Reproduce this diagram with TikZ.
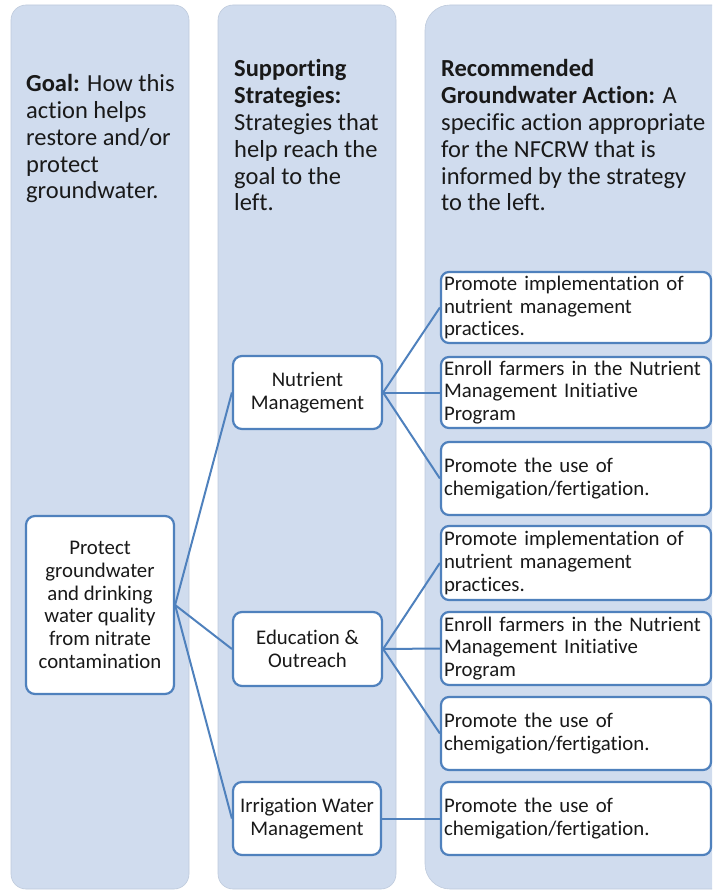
\documentclass[tikz,border=0pt]{standalone}
\usepackage{fontspec}
\setmainfont[Ligatures=NoCommon]{Carlito}
\definecolor{colfill}{RGB}{208,220,238}
\definecolor{colline}{RGB}{190,202,220}
\definecolor{edge}{RGB}{79,129,189}
\definecolor{txt}{RGB}{25,25,25}
\begin{document}
\begin{tikzpicture}[x=1pt,y=-1pt,
  column/.style={fill=colfill, draw=colline, line width=0.6},
  hdr/.style={anchor=base west, align=left, inner sep=0, text=txt,
    font=\fontsize{24.5}{26.8}\selectfont},
  midbox/.style={draw=edge, line width=2.2, fill=white, rounded corners=9,
    align=center, inner sep=2, text=txt, font=\fontsize{20.8}{22.7}\selectfont},
  actbox/.style={draw=edge, line width=2.2, fill=white, rounded corners=8,
    align=left, inner xsep=3, inner ysep=1, text width=264, minimum width=270,
    text=txt, font=\fontsize{20.8}{22.7}\selectfont},
  link/.style={draw=edge, line width=2.0}]
\useasboundingbox (0,0) rectangle (712,890);
\clip (0,0) rectangle (712,890);
% columns
\draw[column, rounded corners=15] (11,5) rectangle (189,889);
\draw[column, rounded corners=15] (218,5) rectangle (396,889);
\draw[column, rounded corners=25] (425,5) rectangle (760,889);
% headers (anchored at the baseline of the last line)
\node[hdr] (h1) at (26,199) {\textbf{Goal:} How this\\action helps\\restore and/or\\protect\\groundwater.};
\node[hdr] (h2) at (234,211) {\textbf{Supporting}\\\textbf{Strategies:}\\Strategies that\\help reach the\\goal to the\\left.};
\node[hdr] (h3) at (441,211) {\textbf{Recommended}\\\textbf{Groundwater Action:} A\\specific action appropriate\\for the NFCRW that is\\informed by the strategy\\to the left.};
% goal
\node[midbox, minimum width=148, minimum height=178] (goal) at (100,605)
  {Protect\\groundwater\\and drinking\\water quality\\from nitrate\\contamination};
% strategies
\node[midbox, minimum width=149, minimum height=73] (nm) at (307.5,392.5) {Nutrient\\Management};
\node[midbox, minimum width=149, minimum height=74] (eo) at (307.5,649) {Education \&\\Outreach};
\node[midbox, minimum width=148, minimum height=73] (iw) at (307,818.5) {Irrigation Water\\Management};
% actions
\node[actbox, minimum height=71] (a1) at (576,307.5) {Promote implementation of\\nutrient management\\practices.};
\node[actbox, minimum height=71] (a2) at (576,392.5) {Enroll farmers in the Nutrient\\Management Initiative\\Program};
\node[actbox, minimum height=73] (a3) at (576,478.5) {Promote the use of\\chemigation/fertigation.};
\node[actbox, minimum height=74] (a4) at (576,563) {Promote implementation of\\nutrient management\\practices.};
\node[actbox, minimum height=73] (a5) at (576,648.5) {Enroll farmers in the Nutrient\\Management Initiative\\Program};
\node[actbox, minimum height=73] (a6) at (576,733.5) {Promote the use of\\chemigation/fertigation.};
\node[actbox, minimum height=73] (a7) at (576,818.5) {Promote the use of\\chemigation/fertigation.};
% connectors
\draw[link] (goal.east) -- (nm.west);
\draw[link] (goal.east) -- (eo.west);
\draw[link] (goal.east) -- (iw.west);
\draw[link] (nm.east) -- (a1.west);
\draw[link] (nm.east) -- (a2.west);
\draw[link] (nm.east) -- (a3.west);
\draw[link] (eo.east) -- (a4.west);
\draw[link] (eo.east) -- (a5.west);
\draw[link] (eo.east) -- (a6.west);
\draw[link] (iw.east) -- (a7.west);
\end{tikzpicture}
\end{document}
